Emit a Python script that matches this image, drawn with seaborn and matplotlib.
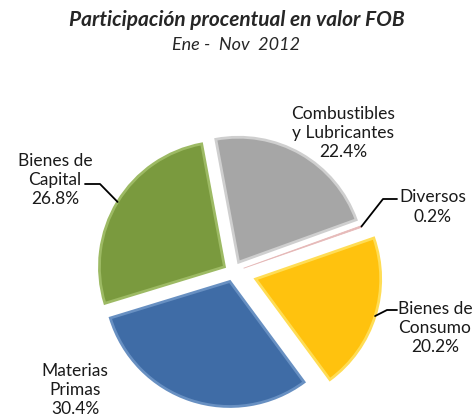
import numpy as np
import matplotlib
matplotlib.use("Agg")
import matplotlib.pyplot as plt
import seaborn as sns

# Datos del grafico (participacion en valor FOB, Ene-Nov 2012)
categorias = ["Combustibles\ny Lubricantes", "Diversos", "Bienes de\nConsumo",
              "Materias\nPrimas", "Bienes de\nCapital"]
participacion = [22.4, 0.2, 20.2, 30.4, 26.8]
colores = ["#A6A6A6", "#E6B9B8", "#FFC20E", "#3F6CA6", "#7A9A3E"]
bordes = ["#CFCFCF", "#E6B9B8", "#FFDD55", "#6890C2", "#9DBA64"]
separacion = [0.09, 0.09, 0.19, 0.08, 0.08]

sns.set_theme(style="white")
plt.rcParams["font.family"] = ["Lato", "DejaVu Sans"]

W, H = 473, 418
R = 125.0          # radio del pie en pixeles
CX, CY = 233, 272  # centro del pie en pixeles (origen arriba a la izquierda)


def px(x, y):
    return (x - CX) / R, (CY - y) / R


fig = plt.figure(figsize=(W / 100, H / 100), dpi=100)
ax = fig.add_axes([0, 0, 1, 1])

wedges, _ = ax.pie(participacion, colors=colores, explode=separacion,
                   startangle=100.5, counterclock=False, radius=1,
                   wedgeprops=dict(linewidth=0))

# efecto de bisel sencillo
for w, b, v in zip(wedges, bordes, participacion):
    w.set_edgecolor(b)
    w.set_linewidth(0.6 if v < 1 else 2.0)

ax.set_xlim(-CX / R, (W - CX) / R)
ax.set_ylim(-(H - CY) / R, CY / R)
ax.set_aspect("equal")
ax.axis("off")

# etiquetas
pos_etiquetas = [(343, 133), (433, 207), (435, 328), (75, 390), (55, 180)]
for cat, val, (x, y) in zip(categorias, participacion, pos_etiquetas):
    tx, ty = px(x, y)
    ax.text(tx, ty, f"{cat}\n{val:.1f}%", ha="center", va="center",
            fontsize=12.5, color="#1a1a1a", linespacing=1.25)

# lineas guia
guias = {4: [(85, 184), (100, 184)], 1: [(397, 199), (383, 199)],
         2: [(397, 310), (387, 310)]}
for i, pts in guias.items():
    w = wedges[i]
    ang = np.deg2rad((w.theta1 + w.theta2) / 2)
    fin = (w.center[0] + w.r * np.cos(ang), w.center[1] + w.r * np.sin(ang))
    xs = [px(*p)[0] for p in pts] + [fin[0]]
    ys = [px(*p)[1] for p in pts] + [fin[1]]
    ax.plot(xs, ys, color="black", lw=1.3)

fig.text(0.5, 1 - 20 / H, "Participación procentual en valor FOB",
         ha="center", va="center", fontsize=15, fontweight="bold",
         fontstyle="italic")
fig.text(0.5, 1 - 45 / H, "Ene -  Nov  2012", ha="center", va="center",
         fontsize=13, fontstyle="italic")

fig.savefig("out.png", dpi=100)
